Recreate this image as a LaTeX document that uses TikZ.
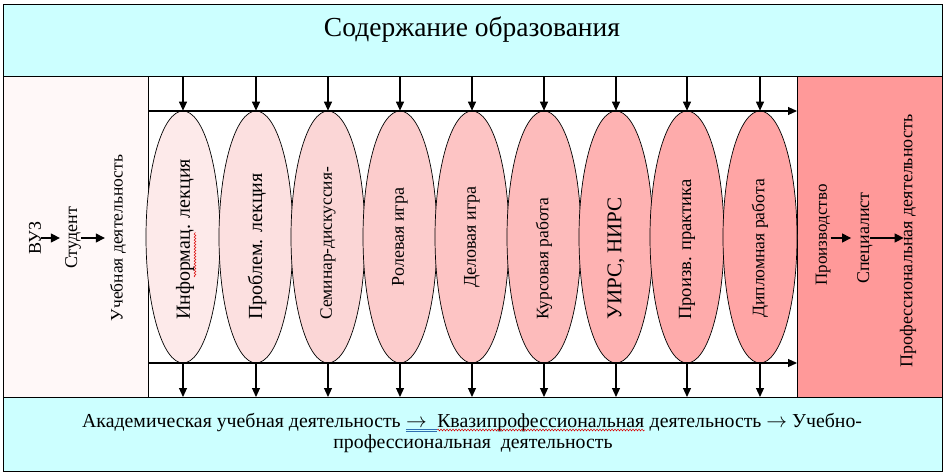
\documentclass[tikz,border=0pt]{standalone}
\usepackage{fontspec}
\setmainfont{Liberation Serif}
\usetikzlibrary{shapes.geometric,arrows.meta,decorations.pathmorphing}
\definecolor{cyanbg}{HTML}{CCFFFF}
\definecolor{leftbg}{HTML}{FFF8F8}
\definecolor{rightbg}{HTML}{FF9999}
\definecolor{ea}{HTML}{FDEAEA}
\definecolor{eb}{HTML}{FCE0E0}
\definecolor{ec}{HTML}{FBD6D6}
\definecolor{ed}{HTML}{FCCCCC}
\definecolor{ee}{HTML}{FDC4C4}
\definecolor{ef}{HTML}{FDBBBB}
\definecolor{eg}{HTML}{FEB2B2}
\definecolor{eh}{HTML}{FEABAB}
\definecolor{ei}{HTML}{FFA5A5}
\definecolor{spellblue}{HTML}{2E6FB0}
\begin{document}
\begin{tikzpicture}[x=1pt,y=-1pt,
  box/.style={draw=black,line width=1.4pt,rectangle,inner sep=0pt,anchor=north west},
  ell/.style={draw=black,line width=0.7pt,ellipse,inner sep=0pt,minimum width=74pt,minimum height=252pt},
  vt/.style={rotate=90,inner sep=0pt},
  arr/.style={line width=1.1pt,-{Triangle[length=9pt,width=8pt]}},
  sarr/.style={line width=1.1pt,-{Triangle[length=9pt,width=9pt]}},
  wavy/.style={draw=red!85!black,line width=0.5pt,decorate,decoration={snake,amplitude=0.9pt,segment length=3pt}},
  txt/.style={inner sep=0pt,font=\fontsize{19.8}{23}\selectfont}
]
\useasboundingbox (0,0) rectangle (945,474);
% boxes
\node[box,fill=cyanbg,minimum width=939pt,minimum height=72pt] (top) at (3,4) {};
\node[box,fill=leftbg,minimum width=145pt,minimum height=321pt] (left) at (3,76) {};
\node[box,fill=white,minimum width=649pt,minimum height=321pt] (mid) at (148,76) {};
\node[box,fill=rightbg,minimum width=145pt,minimum height=321pt] (right) at (797,76) {};
\node[box,fill=cyanbg,minimum width=939pt,minimum height=74pt] (bot) at (3,397) {};
% title
\node[inner sep=0pt,font=\fontsize{27.5}{30}\selectfont] (title) at (472,30) {Содержание образования};
% ellipses
\foreach \i/\x/\c in {1/183/ea,2/256/eb,3/328/ec,4/400/ed,5/472/ee,6/544/ef,7/616/eg,8/687/eh,9/760/ei}{
  \node[ell,fill=\c] (e\i) at (\x,237) {};
  \draw[arr] (e\i.north |- top.south) -- (e\i.north);
  \draw[arr] (e\i.south) -- (e\i.south |- bot.north);
}
% horizontal lines
\coordinate (h1) at (148,111);
\coordinate (h2) at (148,363);
\draw[arr] (h1) -- (h1 -| right.west);
\draw[arr] (h2) -- (h2 -| right.west);
% ellipse texts
\node[vt,anchor=west,font=\fontsize{20}{23}\selectfont] (t1) at (185,320) {Информац. лекция};
\node[vt,anchor=west,font=\fontsize{20}{23}\selectfont] (t2) at (257,320) {Проблем. лекция};
\node[vt,anchor=west,font=\fontsize{17.4}{20}\selectfont] (t3) at (328,320) {Семинар-дискуссия-};
\node[vt,font=\fontsize{18}{21}\selectfont] (t4) at (400,237) {Ролевая игра};
\node[vt,font=\fontsize{18}{21}\selectfont] (t5) at (472,237) {Деловая игра};
\node[vt,anchor=west,font=\fontsize{17.5}{20}\selectfont] (t6) at (544,320) {Курсовая работа};
\node[vt,anchor=west,font=\fontsize{21}{24}\selectfont] (t7) at (616,320) {УИРС, НИРС};
\node[vt,anchor=west,font=\fontsize{18.6}{21}\selectfont] (t8) at (687,320) {Произв. практика};
\node[vt,anchor=west,font=\fontsize{17.6}{20}\selectfont] (t9) at (760,318) {Дипломная работа};
\coordinate (w1) at (195,277);
\coordinate (w2) at (195,232);
\draw[wavy] (w1) -- (w2);
% left box
\node[vt,font=\fontsize{18}{21}\selectfont] (vuz) at (35,238) {ВУЗ};
\node[vt,font=\fontsize{18}{21}\selectfont] (stud) at (73,238) {Студент};
\node[vt,font=\fontsize{17.5}{20}\selectfont] (ucheb) at (118,238) {Учебная деятельность};
\draw[sarr,shorten >=5pt] (vuz.south) -- (stud.north);
\draw[sarr,shorten >=5pt] (stud.south) -- (ucheb.north);
% right box
\node[vt,font=\fontsize{17}{20}\selectfont] (proizv) at (823,235) {Производство};
\node[vt,font=\fontsize{18}{21}\selectfont] (spec) at (865,238) {Специалист};
\node[vt,font=\fontsize{18}{21}\selectfont] (prof) at (908,241) {Профессиональная деятельность};
\draw[sarr,shorten >=6pt] (proizv.south |- spec.center) -- (spec.north);
\draw[sarr,shorten >=-4pt] ([xshift=5pt]spec.center) -- (spec.center -| prof.north);
% bottom text
\node[txt,anchor=base west] (b1) at (82,427) {Академическая учебная деятельность};
\node[txt,anchor=base west] (b2) at ([xshift=5pt]b1.base east) {$\rightarrow$};
\node[txt,anchor=base west] (b3) at ([xshift=10pt]b2.base east) {Квазипрофессиональная};
\node[txt,anchor=base west] (b4) at ([xshift=5pt]b3.base east) {деятельность $\rightarrow$ Учебно-};
\node[txt,anchor=base] (b5) at (473,448) {профессиональная\ \ деятельность};
\draw[spellblue,line width=0.5pt] ([yshift=-2.5pt]b2.base west) -- ([yshift=-2.5pt,xshift=10pt]b2.base east);
\draw[spellblue,line width=0.5pt] ([yshift=-4.5pt]b2.base west) -- ([yshift=-4.5pt,xshift=10pt]b2.base east);
\draw[wavy] ([yshift=-3pt]b3.base west) -- ([yshift=-3pt]b3.base east);
\end{tikzpicture}
\end{document}
